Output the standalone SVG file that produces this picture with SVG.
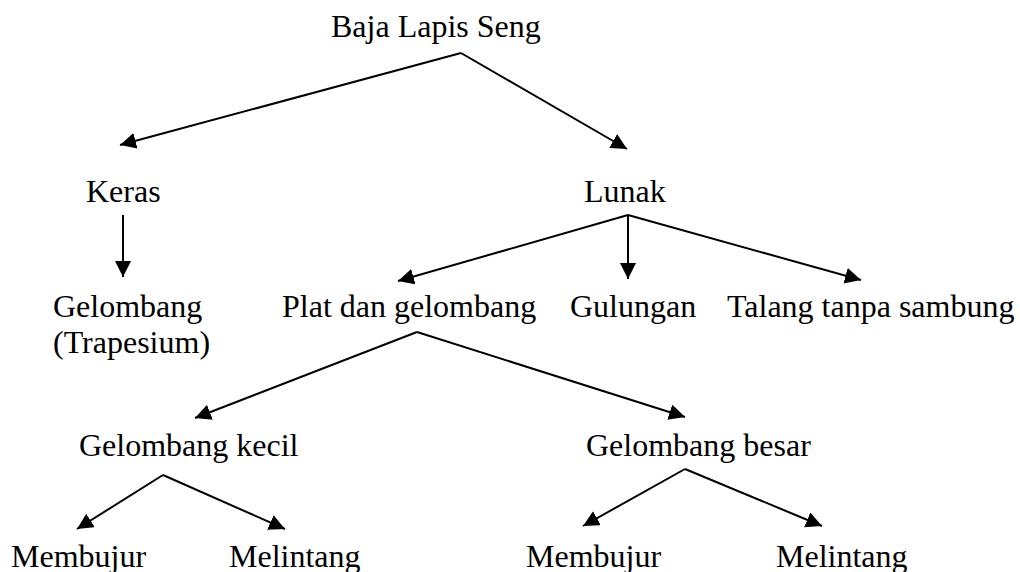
<svg xmlns="http://www.w3.org/2000/svg" width="1020" height="572" viewBox="0 0 1020 572">
<style>
  .lbl { font-family: "Liberation Serif", "Times New Roman", serif; font-size: 32px; fill: #000; }
  .edge { stroke: #000; stroke-width: 2; fill: none; marker-end: url(#arrow); }
</style>
<defs>
  <marker id="arrow" markerUnits="userSpaceOnUse" markerWidth="17" markerHeight="17" refX="16" refY="8" orient="auto">
    <path d="M0,0 L16,8 L0,16 z" fill="#000"/>
  </marker>
</defs>
<rect width="1020" height="572" fill="#fff"/>
<g id="connectors">
  <path class="edge" d="M461,53 L120,145"/>
  <path class="edge" d="M461,53 L627,149"/>
  <path class="edge" d="M123,215 L123,277"/>
  <path class="edge" d="M628,215 L398,281"/>
  <path class="edge" d="M628,215 L628,279"/>
  <path class="edge" d="M628,215 L861,280"/>
  <path class="edge" d="M417,332 L195,418"/>
  <path class="edge" d="M417,332 L685,417"/>
  <path class="edge" d="M163,475 L77,529"/>
  <path class="edge" d="M163,475 L285,529"/>
  <path class="edge" d="M685,469 L583,526"/>
  <path class="edge" d="M685,469 L822,526"/>
</g>
<g id="n-baja"><text class="lbl" x="331" y="37">Baja Lapis Seng</text></g>
<g id="n-keras"><text class="lbl" x="86" y="202">Keras</text></g>
<g id="n-lunak"><text class="lbl" x="584" y="202">Lunak</text></g>
<g id="n-gelombang-trapesium"><text class="lbl" x="53" y="317">Gelombang</text><text class="lbl" x="53" y="353">(Trapesium)</text></g>
<g id="n-plat"><text class="lbl" x="282" y="317">Plat dan gelombang</text></g>
<g id="n-gulungan"><text class="lbl" x="570" y="317">Gulungan</text></g>
<g id="n-talang"><text class="lbl" x="727" y="317">Talang tanpa sambung</text></g>
<g id="n-gel-kecil"><text class="lbl" x="79" y="456">Gelombang kecil</text></g>
<g id="n-gel-besar"><text class="lbl" x="586" y="456">Gelombang besar</text></g>
<g id="n-kecil-membujur"><text class="lbl" x="11" y="567">Membujur</text></g>
<g id="n-kecil-melintang"><text class="lbl" x="229" y="567">Melintang</text></g>
<g id="n-besar-membujur"><text class="lbl" x="526" y="567">Membujur</text></g>
<g id="n-besar-melintang"><text class="lbl" x="776" y="567">Melintang</text></g>
</svg>
